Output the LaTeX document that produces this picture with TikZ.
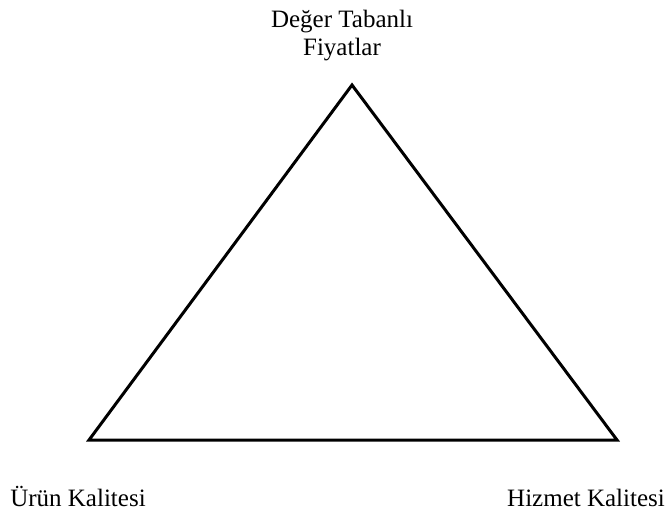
\documentclass[tikz,border=0pt]{standalone}
\usepackage{fontspec}
\setmainfont{Liberation Serif}
\begin{document}
\begin{tikzpicture}[x=1pt,y=-1pt,
  lbl/.style={font=\fontsize{25}{28}\selectfont, inner sep=0pt, align=center},
  tri/.style={draw=black, line width=3pt, line join=miter}]
\useasboundingbox (0,0) rectangle (668,511);
\coordinate (top) at (352,85);
\coordinate (bl) at (89,440);
\coordinate (br) at (617,440);
\draw[tri] (top) -- (bl) -- (br) -- cycle;
\node[lbl, anchor=north] (t) at (342,9.5) {Değer Tabanlı\\Fiyatlar};
\node[lbl, anchor=base] (l) at (78,506) {Ürün Kalitesi};
\node[lbl, anchor=base east] (r) at (665,506) {Hizmet Kalitesi};
\end{tikzpicture}
\end{document}
